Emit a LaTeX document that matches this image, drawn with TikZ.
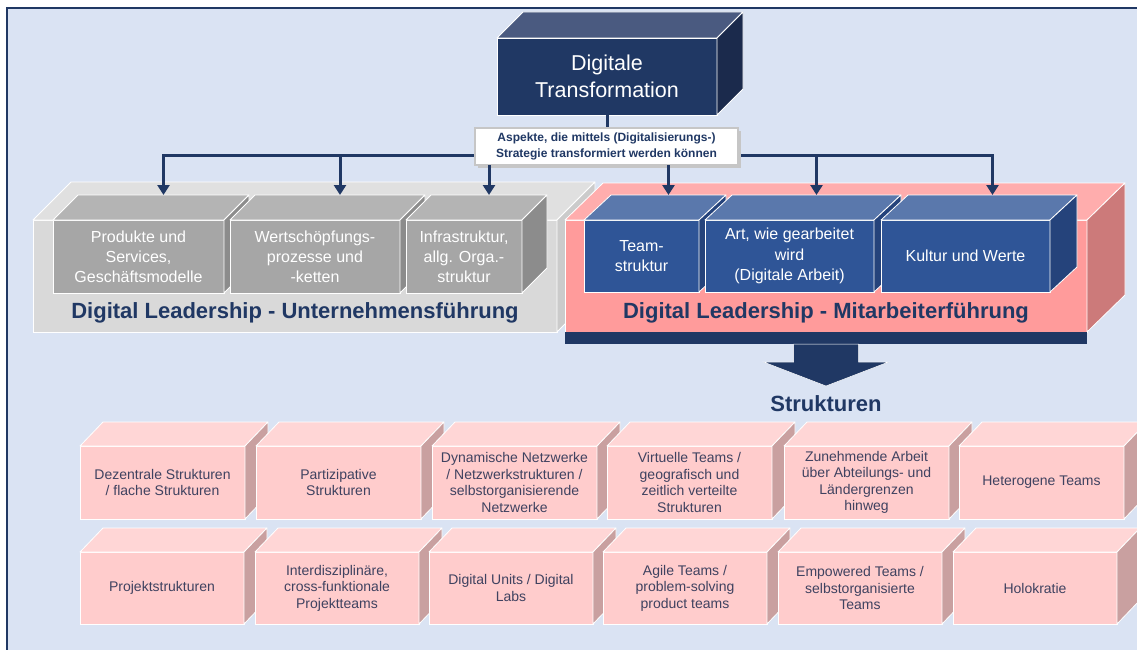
\documentclass[tikz,border=0pt]{standalone}
\usepackage{fontspec}
\setmainfont{Liberation Sans}
\usetikzlibrary{arrows.meta,calc}
\definecolor{bgc}{HTML}{DAE3F3}
\definecolor{navy}{HTML}{203864}
\definecolor{dtcf}{HTML}{203864}
\definecolor{dtct}{HTML}{4A5A80}
\definecolor{dtcs}{HTML}{1B2A4C}
\definecolor{graycf}{HTML}{A6A6A6}
\definecolor{grayct}{HTML}{B4B4B4}
\definecolor{graycs}{HTML}{8C8C8C}
\definecolor{bluecf}{HTML}{2F5597}
\definecolor{bluect}{HTML}{5A78AC}
\definecolor{bluecs}{HTML}{25437B}
\definecolor{platgf}{HTML}{D9D9D9}
\definecolor{platgt}{HTML}{E0E0E0}
\definecolor{platgs}{HTML}{CBCBCB}
\definecolor{platpf}{HTML}{FF9B9B}
\definecolor{platpt}{HTML}{FFADAD}
\definecolor{platps}{HTML}{CC7A7A}
\definecolor{pinkcf}{HTML}{FFCCCC}
\definecolor{pinkct}{HTML}{FFD6D6}
\definecolor{pinkcs}{HTML}{C9A0A0}
\definecolor{txtc}{HTML}{3F4260}
\tikzset{
  cubeedge/.style={draw=white, line width=0.8pt},
  dtc/.style={text=white, font=\fontsize{21.5}{27}\selectfont},
  grayc/.style={text=white, font=\fontsize{16}{20}\selectfont},
  bluec/.style={text=white, font=\fontsize{16}{20.5}\selectfont},
  platg/.style={},
  platp/.style={},
  pinkc/.style={text=txtc, font=\fontsize{14}{16.5}\selectfont},
  conn/.style={draw=navy, line width=3pt},
  tip/.style={-{Triangle[width=12pt,length=10pt]}},
  title/.style={text=navy, font=\bfseries\fontsize{22}{26}\selectfont},
}
% #1 name, #2 style, #3 x1, #4 y1, #5 x2, #6 y2, #7 dx, #8 dy, #9 text
\newcommand{\mycube}[9]{%
  \node[cubeedge, fill=#2f, #2, align=center, inner sep=2pt, outer sep=0pt,
        minimum width={#5-#3}, minimum height={#6-#4}]
        (#1) at ({(#3+#5)/2},{(#4+#6)/2}) {#9};
  \filldraw[cubeedge, fill=#2t, line join=round] (#1.north west) -- ++(#7,-#8)
     -- ([shift={(#7,-#8)}]#1.north east) -- (#1.north east) -- cycle;
  \filldraw[cubeedge, fill=#2s, line join=round] (#1.north east) -- ++(#7,-#8)
     -- ([shift={(#7,-#8)}]#1.south east) -- (#1.south east) -- cycle;
  \coordinate (#1-top) at ([shift={(#7,-#8)}]#1.north);
}
\begin{document}
\begin{tikzpicture}[x=1pt,y=-1pt]
\useasboundingbox (0,0) rectangle (1137,650);
\clip (0,0) rectangle (1137,650);
\fill[white] (0,0) rectangle (1137,650);
\filldraw[fill=bgc, draw=navy, line width=1.5pt] (7,8) rectangle (1150,665);

% top cube
\mycube{dt}{dtc}{497}{38}{717}{115}{26}{26}{Digitale\\Transformation}

% platforms
\mycube{pg}{platg}{33}{220}{557}{332}{38}{38}{}
\mycube{pp}{platp}{565}{220}{1087}{332}{38}{37}{}

% gray boxes
\mycube{g1}{grayc}{53}{220}{224}{293}{25}{25}{Produkte und\\Services,\\Geschäftsmodelle}
\mycube{g2}{grayc}{230}{220}{400}{293}{25}{25}{Wertschöpfungs-\\prozesse und\\-ketten}
\mycube{g3}{grayc}{406}{220}{522}{293}{25}{25}{Infrastruktur,\\allg. Orga.-\\struktur}

% blue boxes
\mycube{b1}{bluec}{584}{220}{699}{292}{27}{25}{Team-\\struktur}
\mycube{b2}{bluec}{705}{220}{874}{292}{27}{25}{Art, wie gearbeitet\\wird\\(Digitale Arbeit)}
\mycube{b3}{bluec}{881}{220}{1050}{292}{27}{25}{Kultur und Werte}

% titles
\node[title] (tg) at (295,313) {Digital Leadership - Unternehmensführung};
\node[title] (tp) at (826,313) {Digital Leadership - Mitarbeiterführung};

% bar and big arrow
\node[fill=navy, minimum width=522, minimum height=12, inner sep=0pt, outer sep=0pt] (bar) at (826,338) {};
\filldraw[fill=navy, draw=white, line width=0.5pt, line join=miter]
  ([xshift=-32.5pt]bar.south) -- ++(0,18) -- ++(-30,0) -- ++(62.5,24)
  -- ++(62.5,-24) -- ++(-30,0) -- ++(0,-18) -- cycle;
\node[title] (stru) at (826,404) {Strukturen};

% connectors
\coordinate (busy) at (0,155);
\draw[conn] (dt.south) -- ++(0,13);
\draw[conn, tip] (dt.south |- busy) -| (g1-top);
\draw[conn, tip] (g2-top |- busy) -- (g2-top);
\draw[conn, tip] (dt.south |- busy) -| (b3-top);
\draw[conn, tip] (b2-top |- busy) -- (b2-top);
% label box
\fill[gray!45] (478,131) rectangle (741,168);
\node[fill=white, draw=gray!45, line width=1.2pt, minimum width=263, minimum height=37,
      inner sep=1pt, outer sep=0pt, align=center, text=navy,
      font=\bfseries\fontsize{12}{15.5}\selectfont] (lab) at (606.5,146.5)
      {Aspekte, die mittels (Digitalisierungs-)\\Strategie transformiert werden können};
\draw[conn, tip] (lab.south -| g3-top) -- (g3-top);
\draw[conn, tip] (lab.south -| b1-top) -- (b1-top);

% pink boxes row 1
\mycube{p1}{pinkc}{80}{446}{245}{519}{23}{24}{Dezentrale Strukturen\\/ flache Strukturen}
\mycube{p2}{pinkc}{256}{446}{421}{519}{23}{24}{Partizipative\\Strukturen}
\mycube{p3}{pinkc}{432}{446}{597}{519}{23}{24}{Dynamische Netzwerke\\/ Netzwerkstrukturen /\\selbstorganisierende\\Netzwerke}
\mycube{p4}{pinkc}{607}{446}{772}{519}{23}{24}{Virtuelle Teams /\\geografisch und\\zeitlich verteilte\\Strukturen}
\mycube{p5}{pinkc}{784}{446}{949}{519}{23}{24}{Zunehmende Arbeit\\über Abteilungs- und\\Ländergrenzen\\hinweg}
\mycube{p6}{pinkc}{959}{446}{1124}{519}{23}{24}{Heterogene Teams}

% pink boxes row 2
\mycube{q1}{pinkc}{80}{552}{244}{624}{23}{24}{Projektstrukturen}
\mycube{q2}{pinkc}{255}{552}{419}{624}{23}{24}{Interdisziplinäre,\\cross-funktionale\\Projektteams}
\mycube{q3}{pinkc}{429}{552}{593}{624}{23}{24}{Digital Units / Digital\\Labs}
\mycube{q4}{pinkc}{603}{552}{767}{624}{23}{24}{Agile Teams /\\problem-solving\\product teams}
\mycube{q5}{pinkc}{778}{552}{942}{624}{23}{24}{Empowered Teams /\\selbstorganisierte\\Teams}
\mycube{q6}{pinkc}{953}{552}{1117}{624}{23}{24}{Holokratie}
\end{tikzpicture}
\end{document}
